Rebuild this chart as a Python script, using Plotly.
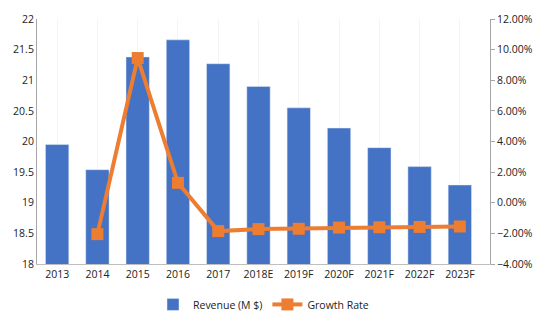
import plotly.graph_objects as go

years = ["2013", "2014", "2015", "2016", "2017", "2018E", "2019F", "2020F", "2021F", "2022F", "2023F"]
revenue = [19.95, 19.54, 21.38, 21.66, 21.27, 20.90, 20.55, 20.22, 19.90, 19.59, 19.29]
growth_years = years[1:]
growth = [-2.05, 9.45, 1.30, -1.85, -1.72, -1.70, -1.62, -1.60, -1.58, -1.55]

fig = go.Figure()
fig.add_trace(go.Bar(
    x=years, y=revenue, name="Revenue (M $)",
    marker=dict(color="#4472C4"), yaxis="y",
))
fig.add_trace(go.Scatter(
    x=growth_years, y=growth, name="Growth Rate", yaxis="y2",
    mode="lines+markers",
    line=dict(color="#ED7D31", width=4),
    marker=dict(symbol="square", size=12, color="#ED7D31"),
))

font = dict(family="Open Sans, Liberation Sans, sans-serif", size=10.5, color="#222")
fig.update_layout(
    width=545, height=331,
    margin=dict(l=37, r=55, t=12, b=66),
    paper_bgcolor="white", plot_bgcolor="white",
    font=font,
    bargap=0.42,
    showlegend=True,
    legend=dict(orientation="h", x=0.5, xanchor="center", y=-0.165, yanchor="middle",
                font=dict(size=10.5), itemwidth=30),
    xaxis=dict(type="category", showline=True, linecolor="#BFBFBF", linewidth=1,
               showgrid=True, gridcolor="#F4F4F4", ticks="", tickfont=font),
    yaxis=dict(range=[18, 22], dtick=0.5, showline=True, linecolor="#A6A6A6",
               showgrid=False, ticks="", tickfont=font, zeroline=False),
    yaxis2=dict(range=[-4, 12], dtick=2, overlaying="y", side="right",
                showline=True, linecolor="#A6A6A6", ticks="outside", ticklen=4,
                tickcolor="#A6A6A6", ticksuffix="%", tickformat=".2f",
                showgrid=False, zeroline=False, tickfont=font),
)
fig.write_html("out.html")
